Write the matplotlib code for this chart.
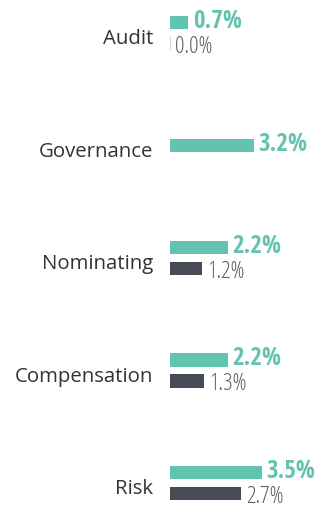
import matplotlib.pyplot as plt
import numpy as np

# Committee share data (percent)
committees = ["Audit", "Governance", "Nominating", "Compensation", "Risk"]
share_a = [0.7, 3.2, 2.2, 2.2, 3.5]          # teal series
share_b = [0.0, None, 1.2, 1.3, 2.7]         # dark series (none for Governance)

teal = "#62c4b0"
dark = "#474b55"

fig = plt.figure(figsize=(3.22, 5.10), dpi=100)
ax = fig.add_axes([170 / 322, 0, 152 / 322, 1])

ypos = np.arange(len(committees))
off = 0.093
h = 0.118

for i, (a, b) in enumerate(zip(share_a, share_b)):
    if b is None:
        ya = ypos[i]
    else:
        ya = ypos[i] - off
        yb = ypos[i] + off
        if b == 0:
            ax.barh(yb, b, height=h, color="#d0d0d0", edgecolor="#d0d0d0", linewidth=1.2)
        else:
            ax.barh(yb, b, height=h, color=dark)
        ax.text(b + 0.2, yb + 0.02, f"{b:.1f}%", va="center", ha="left",
                fontsize=17, fontweight=300, fontstretch="condensed",
                color="#5b5f68", family=["Open Sans", "DejaVu Sans"])
    ax.barh(ya, a, height=h, color=teal)
    ax.text(a + 0.17, ya - 0.02, f"{a:.1f}%", va="center", ha="left",
            fontsize=18, fontweight="bold", fontstretch="condensed",
            color=teal, family=["Open Sans Condensed", "DejaVu Sans"])

ax.set_xlim(0, 5.78)
ax.set_ylim(4.23, -0.302)
ax.set_xticks([])
ax.set_yticks(ypos + 0.025)
ax.set_yticklabels(committees, fontsize=14.7, color="#333333", family="Open Sans")
ax.tick_params(axis="y", length=0, pad=12)
for s in ax.spines.values():
    s.set_visible(False)

fig.savefig("out.png", dpi=100)
